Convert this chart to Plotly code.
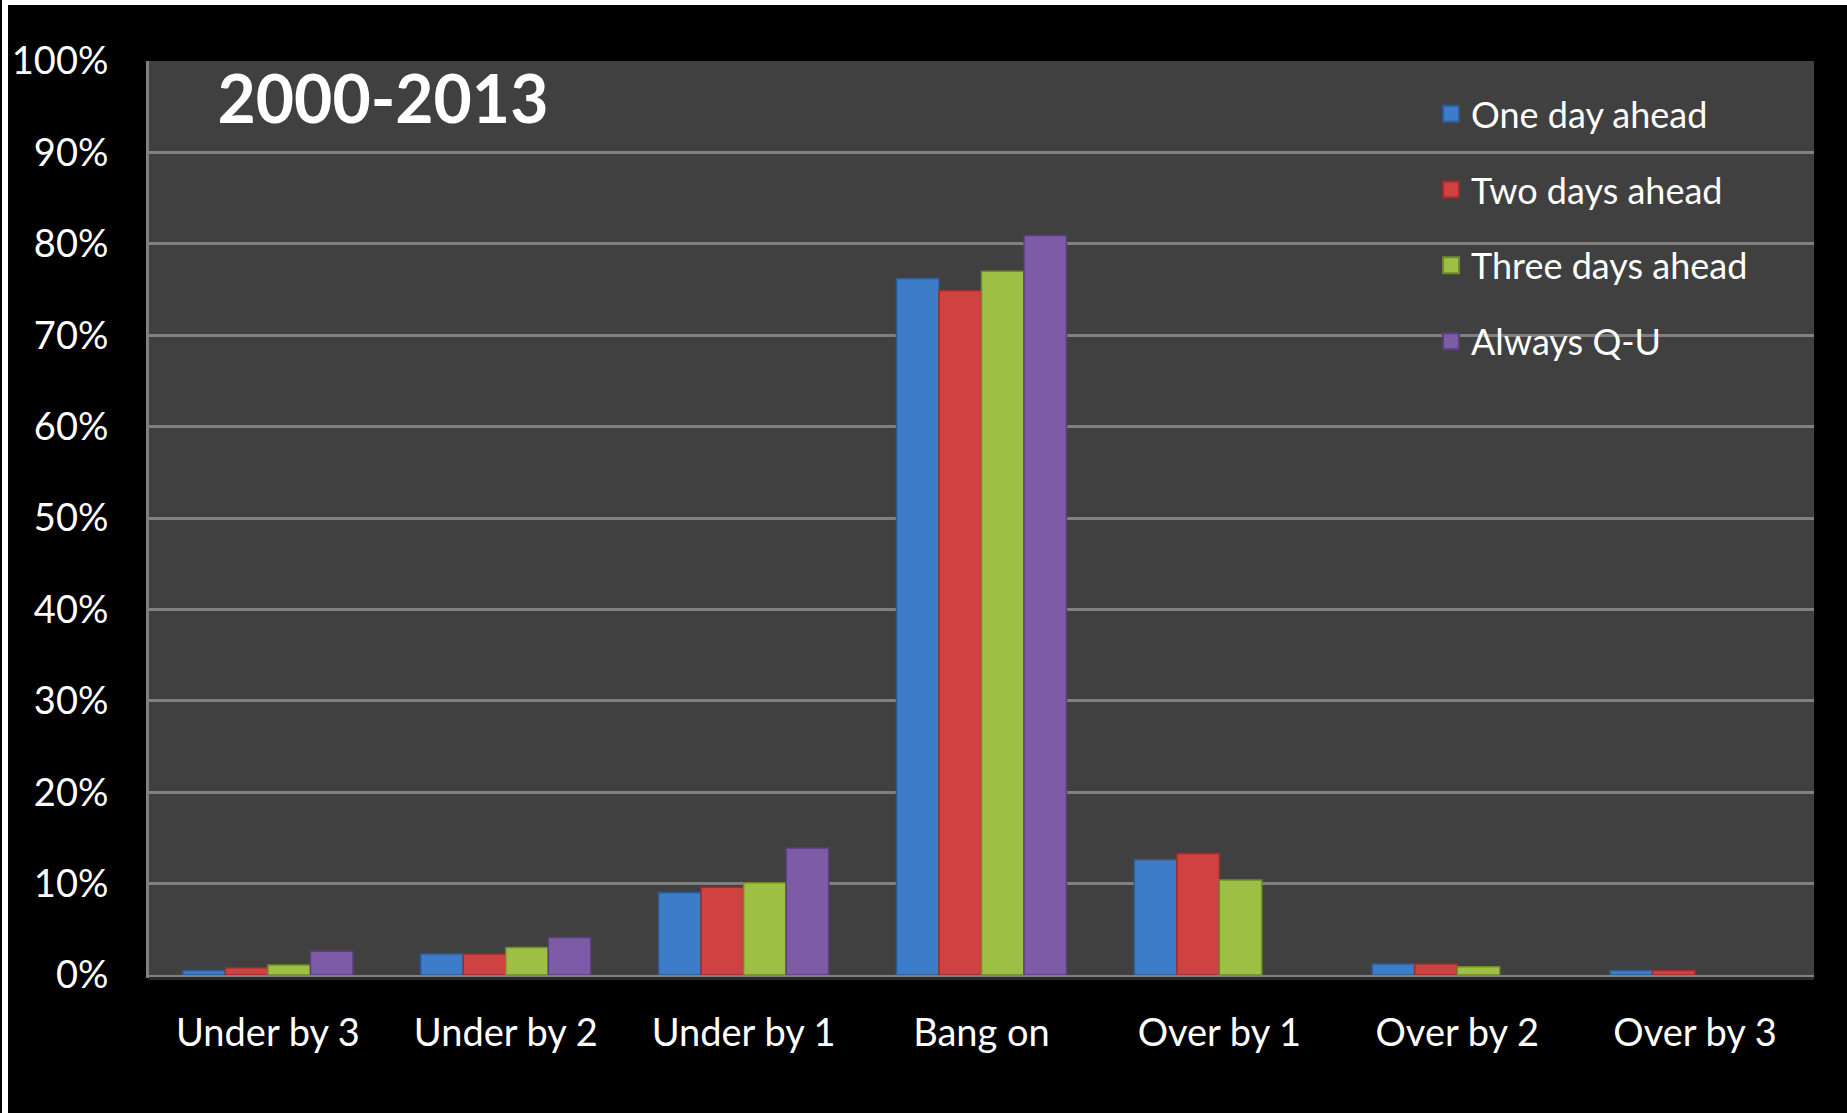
import plotly.graph_objects as go

# Forecast error categories and share of days (percent) per forecasting method
categories = ["Under by 3", "Under by 2", "Under by 1", "Bang on",
              "Over by 1", "Over by 2", "Over by 3"]
one_day_ahead = [0.5, 2.3, 9.0, 76.2, 12.6, 1.2, 0.5]
two_days_ahead = [0.8, 2.3, 9.6, 74.9, 13.3, 1.2, 0.5]
three_days_ahead = [1.1, 3.0, 10.1, 77.0, 10.4, 0.9, 0.0]
always_qu = [2.6, 4.1, 13.9, 80.9, 0.0, 0.0, 0.0]

series_names = ["One day ahead", "Two days ahead", "Three days ahead", "Always Q-U"]
series_values = [one_day_ahead, two_days_ahead, three_days_ahead, always_qu]
fill_colors = ["#3D7CC9", "#D04141", "#9DC044", "#7D5BA6"]
edge_colors = ["#2C5C96", "#9A2E2E", "#6F8A2C", "#57407A"]

y_ticks = list(range(0, 101, 10))
y_tick_text = [f"{v}%" for v in y_ticks]

FONT = "Lato"
W, H = 1847, 1113
ML, MR, MT, MB = 147, 33, 61, 138
PLOT_H = H - MT - MB

fig = go.Figure()
for i, (name, vals) in enumerate(zip(series_names, series_values)):
    fig.add_trace(go.Bar(
        name=name,
        x=categories,
        y=vals,
        legendgroup=name,
        showlegend=False,
        marker=dict(color=fill_colors[i],
                    line=dict(color=edge_colors[i],
                              width=[1.5 if v > 0 else 0 for v in vals])),
    ))

# legend keys: larger square swatches than the default bar icon
for i, name in enumerate(series_names):
    fig.add_trace(go.Scatter(
        name=name,
        x=[None], y=[None],
        mode="markers",
        legendgroup=name,
        showlegend=True,
        marker=dict(symbol="square", size=16, color=fill_colors[i],
                    line=dict(color=edge_colors[i], width=2)),
    ))

# dark shadow under the category axis line, plus the white frame on top/left
shapes = [
    dict(type="rect", xref="paper", x0=0, x1=1,
         yref="paper", ysizemode="pixel", yanchor=0, y0=-2, y1=-5,
         fillcolor="#2B2B2B", line=dict(width=0), layer="above"),
    dict(type="rect", xref="paper", xsizemode="pixel", xanchor=0,
         x0=-ML, x1=W - ML,
         yref="paper", ysizemode="pixel", yanchor=0,
         y0=PLOT_H + MT - 5, y1=PLOT_H + MT,
         fillcolor="#FFFFFF", line=dict(width=0), layer="above"),
    dict(type="rect", xref="paper", xsizemode="pixel", xanchor=0,
         x0=-ML, x1=-ML + 6,
         yref="paper", ysizemode="pixel", yanchor=0,
         y0=-MB, y1=PLOT_H + MT,
         fillcolor="#FFFFFF", line=dict(width=0), layer="above"),
]

fig.update_layout(
    width=W, height=H,
    paper_bgcolor="#000000",
    plot_bgcolor="#404040",
    margin=dict(l=ML, r=MR, t=MT, b=MB),
    barmode="group",
    bargap=0.285,
    bargroupgap=0.0,
    font=dict(family=FONT, color="#FFFFFF", size=36),
    title=dict(
        text="<b>2000-2013</b>",
        font=dict(family=FONT, size=66, color="#FFFFFF"),
        xref="container", x=383 / W, xanchor="center",
        yref="container", y=1 - 100 / H, yanchor="middle",
    ),
    legend=dict(
        x=0.770, xanchor="left",
        y=0.975, yanchor="top",
        bgcolor="rgba(0,0,0,0)",
        font=dict(family=FONT, size=36, color="#FFFFFF"),
        tracegroupgap=26,
        itemsizing="trace",
    ),
    showlegend=True,
    shapes=shapes,
)

fig.update_xaxes(
    showline=True, linecolor="#808080", linewidth=3,
    showgrid=False, ticks="", ticklabelstandoff=22,
    tickfont=dict(family=FONT, size=38, color="#FFFFFF"),
)
fig.update_yaxes(
    range=[0, 100],
    tickvals=y_ticks, ticktext=y_tick_text,
    showline=True, linecolor="#808080", linewidth=3,
    showgrid=True, gridcolor="#808080", gridwidth=3,
    zeroline=False, ticks="", ticklabelstandoff=30,
    tickfont=dict(family=FONT, size=38, color="#FFFFFF"),
)

fig.write_html("out.html")
